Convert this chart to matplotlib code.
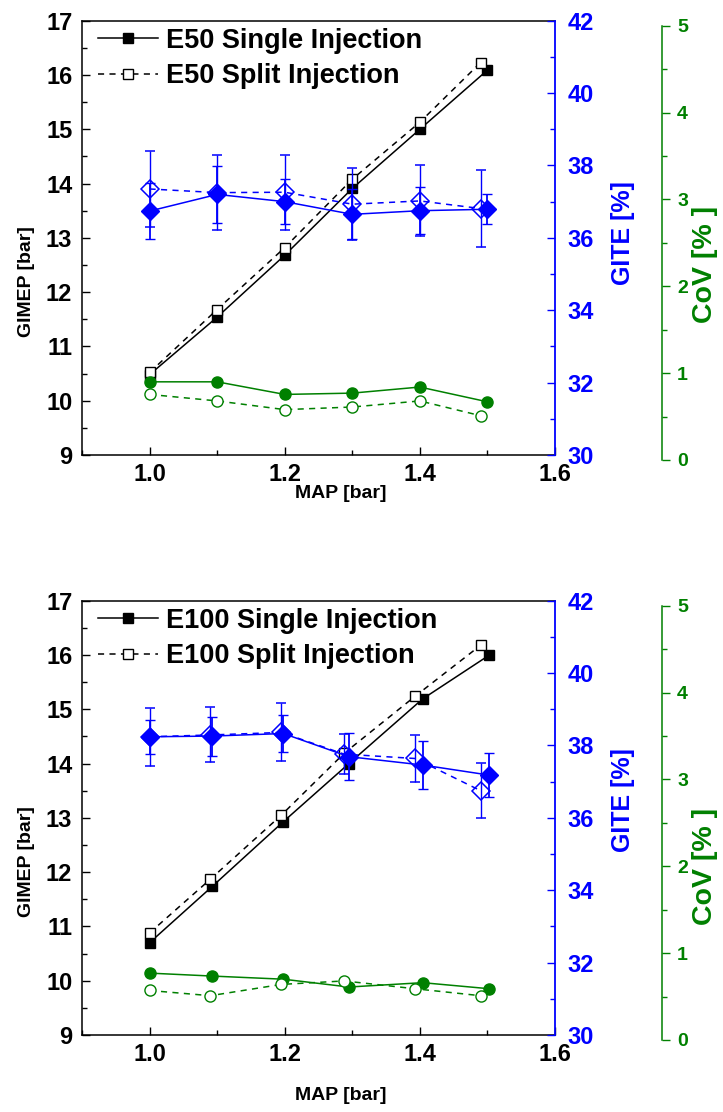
import matplotlib
matplotlib.use("Agg")
import matplotlib.pyplot as plt
from matplotlib.lines import Line2D
from matplotlib.ticker import MultipleLocator

plt.rcParams["font.family"] = ["Liberation Sans", "DejaVu Sans"]
plt.rcParams["font.weight"] = "bold"
plt.rcParams["axes.labelweight"] = "bold"

# -- Data -------------------------------------------------------------------

E50_MAP_SINGLE = [1.0, 1.1, 1.2, 1.3, 1.4, 1.5]
E50_MAP_SPLIT = [1.0, 1.1, 1.2, 1.3, 1.4, 1.49]
E50_GIMEP_SINGLE = [10.48, 11.54, 12.68, 13.91, 15.0, 16.09]
E50_GIMEP_SPLIT = [10.52, 11.68, 12.82, 14.08, 15.13, 16.23]
E50_GITE_SINGLE = [36.74, 37.20, 37.0, 36.65, 36.75, 36.79]
E50_GITE_SINGLE_ERR = [0.78, 0.78, 0.62, 0.69, 0.65, 0.41]
E50_GITE_SPLIT = [37.35, 37.25, 37.26, 36.93, 37.02, 36.81]
E50_GITE_SPLIT_ERR = [1.04, 1.04, 1.03, 0.99, 0.98, 1.07]
E50_COV_SINGLE = [0.90, 0.90, 0.755, 0.77, 0.84, 0.67]
E50_COV_SPLIT = [0.755, 0.68, 0.58, 0.61, 0.68, 0.51]

E100_MAP_SINGLE = [1.0, 1.093, 1.198, 1.295, 1.404, 1.503]
E100_MAP_SPLIT = [1.0, 1.09, 1.195, 1.288, 1.393, 1.49]
E100_GIMEP_SINGLE = [10.70, 11.74, 12.93, 14.0, 15.19, 16.0]
E100_GIMEP_SPLIT = [10.88, 11.87, 13.05, 14.19, 15.24, 16.18]
E100_GITE_SINGLE = [38.24, 38.26, 38.33, 37.69, 37.46, 37.18]
E100_GITE_SINGLE_ERR = [0.47, 0.54, 0.51, 0.65, 0.65, 0.60]
E100_GITE_SPLIT = [38.24, 38.29, 38.36, 37.76, 37.64, 36.75]
E100_GITE_SPLIT_ERR = [0.80, 0.76, 0.80, 0.55, 0.64, 0.76]
E100_COV_SINGLE = [0.77, 0.736, 0.70, 0.61, 0.66, 0.59]
E100_COV_SPLIT = [0.57, 0.51, 0.64, 0.68, 0.59, 0.51]

BLUE = "#0000ff"
GREEN = "#008000"
DASH = (0, (4, 3.5))

FIG_W, FIG_H = 723, 1112


def draw_panel(fig, top_px, fuel, map_single, map_split, gimep_single, gimep_split,
               gite_single, gite_single_err, gite_split, gite_split_err,
               cov_single, cov_split, xlabel_gap, cov_label_y, gite_label_y):
    left, right = 82, 555
    height = 434.3
    rect = [left / FIG_W, 1 - (top_px + height) / FIG_H, (right - left) / FIG_W, height / FIG_H]

    ax = fig.add_axes(rect)
    ax.plot(map_single, gimep_single, "s-", color="black", ms=7.5, lw=1.1, zorder=3)
    ax.plot(map_split, gimep_split, "s", ls=DASH, color="black", mfc="white", ms=7.5,
            lw=1.1, zorder=3)
    ax.set_xlim(0.9, 1.6)
    ax.set_ylim(9, 17)
    ax.xaxis.set_major_locator(MultipleLocator(0.2))
    ax.xaxis.set_minor_locator(MultipleLocator(0.1))
    ax.yaxis.set_major_locator(MultipleLocator(1))
    ax.yaxis.set_minor_locator(MultipleLocator(0.5))
    ax.tick_params(which="both", direction="in", top=False, right=False, width=1)
    ax.tick_params(which="major", length=6, labelsize=17)
    ax.tick_params(which="minor", length=3.5)
    ax.tick_params(axis="y", pad=7)
    ax.tick_params(axis="x", pad=6)
    ax.spines["right"].set_visible(False)
    for s in ("left", "top", "bottom"):
        ax.spines[s].set_linewidth(1.1)
    ax.set_ylabel("GIMEP [bar]", fontsize=14)
    ax.yaxis.set_label_coords(-0.099, 0.40)
    ax.set_xlabel("MAP [bar]", fontsize=14, va="center")
    ax.xaxis.set_label_coords(0.547, -xlabel_gap / height)

    handles = [
        Line2D([], [], color="black", marker="s", ms=7.5, lw=1.1),
        Line2D([], [], color="black", marker="s", mfc="white", ms=7.5, lw=1.1, ls=DASH),
    ]
    ax.legend(handles, [f"{fuel} Single Injection", f"{fuel} Split Injection"],
              loc="upper left", bbox_to_anchor=(0.034, 0.984), frameon=False,
              fontsize=19.5, handlelength=2.2, handletextpad=0.32, labelspacing=0.36,
              borderpad=0, borderaxespad=0, numpoints=1)

    # GITE on the blue twin axis
    ax2 = ax.twinx()
    ax2.errorbar(map_split, gite_split, yerr=gite_split_err, fmt="D", ls=DASH,
                 color=BLUE, mfc="none", mec=BLUE, ms=9.5, mew=1.1, lw=1.1,
                 elinewidth=1, capsize=3.5, capthick=1, zorder=3)
    ax2.errorbar(map_single, gite_single, yerr=gite_single_err, fmt="D-",
                 color=BLUE, ms=9.5, lw=1.1, elinewidth=1.3, capsize=3.5, capthick=1,
                 zorder=4)
    ax2.set_ylim(30, 42)
    ax2.yaxis.set_major_locator(MultipleLocator(2))
    ax2.yaxis.set_minor_locator(MultipleLocator(1))
    ax2.tick_params(which="both", direction="in", colors=BLUE, width=1)
    ax2.tick_params(which="major", length=6, labelsize=17, pad=9)
    ax2.tick_params(which="minor", length=3.5)
    ax2.spines["right"].set_color(BLUE)
    ax2.spines["right"].set_linewidth(1.3)
    for s in ("left", "top", "bottom"):
        ax2.spines[s].set_visible(False)
    ax2.set_ylabel("GITE [%]", fontsize=18, color=BLUE)
    ax2.yaxis.set_label_coords(1.118, gite_label_y)

    # CoV on the green offset axis
    shift = 5 / FIG_H
    ax3 = fig.add_axes([rect[0], rect[1] - shift, rect[2], rect[3]])
    ax3.patch.set_visible(False)
    ax3.plot(map_single, cov_single, "o-", color=GREEN, ms=8, lw=1.1)
    ax3.plot(map_split, cov_split, "o", ls=DASH, color=GREEN, mfc="white", ms=8,
             mew=1, lw=1.1)
    ax3.set_xlim(0.9, 1.6)
    ax3.set_ylim(0, 5)
    ax3.xaxis.set_visible(False)
    for s in ("left", "top", "bottom"):
        ax3.spines[s].set_visible(False)
    ax3.spines["right"].set_position(("outward", 77))
    ax3.spines["right"].set_color(GREEN)
    ax3.spines["right"].set_linewidth(1.1)
    ax3.yaxis.tick_right()
    ax3.yaxis.set_label_position("right")
    ax3.yaxis.set_major_locator(MultipleLocator(1))
    ax3.yaxis.set_minor_locator(MultipleLocator(0.5))
    ax3.tick_params(which="both", direction="out", colors=GREEN, width=1)
    ax3.tick_params(which="major", length=6, labelsize=14, pad=5)
    ax3.tick_params(which="minor", length=3.5)
    ax3.set_ylabel("CoV [% ]", fontsize=20.5, color=GREEN)
    ax3.yaxis.set_label_coords(1.29, cov_label_y)
    return ax


fig = plt.figure(figsize=(FIG_W / 100, FIG_H / 100), dpi=100)

draw_panel(fig, 20.7, "E50", E50_MAP_SINGLE, E50_MAP_SPLIT, E50_GIMEP_SINGLE,
           E50_GIMEP_SPLIT, E50_GITE_SINGLE, E50_GITE_SINGLE_ERR, E50_GITE_SPLIT,
           E50_GITE_SPLIT_ERR, E50_COV_SINGLE, E50_COV_SPLIT,
           xlabel_gap=38, cov_label_y=0.45, gite_label_y=0.51)

draw_panel(fig, 600.7, "E100", E100_MAP_SINGLE, E100_MAP_SPLIT, E100_GIMEP_SINGLE,
           E100_GIMEP_SPLIT, E100_GITE_SINGLE, E100_GITE_SINGLE_ERR, E100_GITE_SPLIT,
           E100_GITE_SPLIT_ERR, E100_COV_SINGLE, E100_COV_SPLIT,
           xlabel_gap=61, cov_label_y=0.40, gite_label_y=0.54)

fig.savefig("out.png", dpi=100)
plt.close(fig)
